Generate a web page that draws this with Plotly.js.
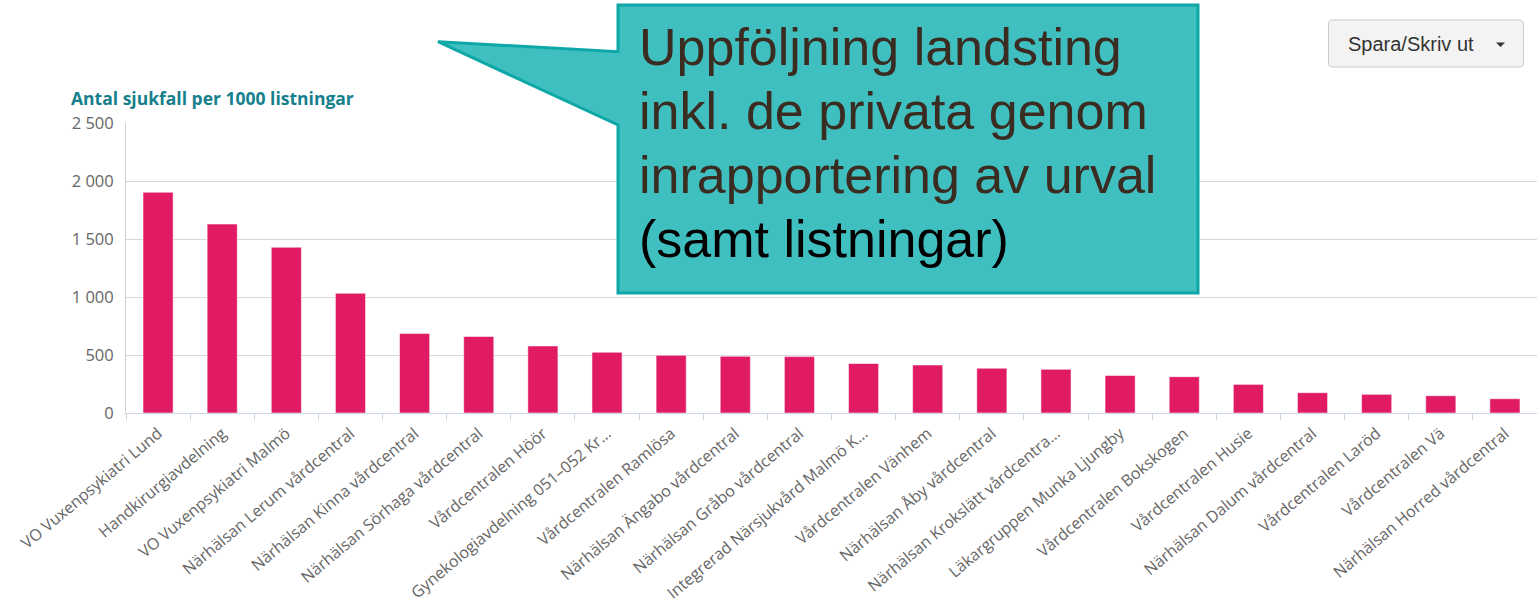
<!DOCTYPE html>
<html>
<head>
<meta charset="utf-8">
<script src="https://cdn.plot.ly/plotly-3.0.1.min.js"></script>
<style>
  html, body { margin: 0; padding: 0; background: #ffffff; }
  #chart { width: 1537px; height: 605px; }
</style>
</head>
<body>
<div id="chart"></div>
<script>
// ---- Data ----
const categories = [
  "VO Vuxenpsykiatri Lund",
  "Handkirurgiavdelning",
  "VO Vuxenpsykiatri Malmö",
  "Närhälsan Lerum vårdcentral",
  "Närhälsan Kinna vårdcentral",
  "Närhälsan Sörhaga vårdcentral",
  "Vårdcentralen Höör",
  "Gynekologiavdelning 051–052 Kr…",
  "Vårdcentralen Ramlösa",
  "Närhälsan Ängabo vårdcentral",
  "Närhälsan Gråbo vårdcentral",
  "Integrerad Närsjukvård Malmö K…",
  "Vårdcentralen Vänhem",
  "Närhälsan Åby vårdcentral",
  "Närhälsan Krokslätt vårdcentra…",
  "Läkargruppen Munka Ljungby",
  "Vårdcentralen Bokskogen",
  "Vårdcentralen Husie",
  "Närhälsan Dalum vårdcentral",
  "Vårdcentralen Laröd",
  "Vårdcentralen Vä",
  "Närhälsan Horred vårdcentral"
];
const sjukfallPer1000 = [1903, 1629, 1429, 1032, 686, 660, 578, 524, 498, 489, 486, 427, 414, 386, 377, 324, 313, 247, 175, 161, 149, 123];
const yTickValues = [0, 500, 1000, 1500, 2000, 2500];
const yAxisTitle = "Antal sjukfall per 1000 listningar";
const calloutLines = ["Uppföljning landsting", "inkl. de privata genom", "inrapportering av urval", "(samt listningar)"];
const calloutColors = ["#3b2c21", "#3b2c21", "#3b2c21", "#000000"];
const buttonLabel = "Spara/Skriv ut";

// ---- Layout helpers (pixel -> paper) ----
const W = 1537, H = 605;
const M = { l: 126, r: 0, t: 123, b: 192 };
const PW = W - M.l - M.r, PH = H - M.t - M.b;
const px = x => (x - M.l) / PW;
const py = y => (H - M.b - y) / PH;
const P = (x, y) => px(x).toFixed(5) + "," + py(y).toFixed(5);

const calloutPath = "M" + P(618, 5) + " L" + P(1198, 5) + " L" + P(1198, 293) + " L" + P(618, 293) +
  " L" + P(618, 125) + " L" + P(438, 41.7) + " L" + P(618, 51.7) + " Z";

const r = 4;
const bx0 = 1328.5, bx1 = 1523.5, by0 = 20, by1 = 67;
const buttonPath = "M" + P(bx0 + r, by0) + " L" + P(bx1 - r, by0) + " Q" + P(bx1, by0) + " " + P(bx1, by0 + r) +
  " L" + P(bx1, by1 - r) + " Q" + P(bx1, by1) + " " + P(bx1 - r, by1) +
  " L" + P(bx0 + r, by1) + " Q" + P(bx0, by1) + " " + P(bx0, by1 - r) +
  " L" + P(bx0, by0 + r) + " Q" + P(bx0, by0) + " " + P(bx0 + r, by0) + " Z";
const caretPath = "M" + P(1496, 42.5) + " L" + P(1505, 42.5) + " L" + P(1500.5, 47) + " Z";

const trace = {
  type: "bar",
  x: categories,
  y: sjukfallPer1000,
  marker: { color: "#e11a64", line: { color: "rgba(255,255,255,0.55)", width: 1 } },
  hoverinfo: "skip"
};

const calloutFont = 52;
const calloutBaselines = [68, 132, 196, 260];
const calloutAnnotations = calloutLines.map((t, i) => ({
  xref: "paper", yref: "paper", x: px(637), y: py(calloutBaselines[i] - calloutFont),
  xanchor: "left", yanchor: "top", align: "left", text: t, showarrow: false,
  font: { family: "Liberation Sans, Arial, sans-serif", size: calloutFont, color: calloutColors[i] }
}));

const layout = {
  width: W, height: H,
  margin: M,
  paper_bgcolor: "#ffffff",
  plot_bgcolor: "#ffffff",
  showlegend: false,
  separators: ", ",
  bargap: 0.53,
  font: { family: "Open Sans, DejaVu Sans, sans-serif", color: "#666666", size: 14 },
  xaxis: {
    type: "category",
    tickangle: -40,
    tickson: "boundaries",
    ticks: "outside",
    ticklen: 6,
    tickwidth: 1,
    tickcolor: "#ccd6eb",
    showline: true,
    linecolor: "#ccd6eb",
    linewidth: 1,
    showgrid: false,
    ticklabelstandoff: 4,
    tickfont: { family: "Open Sans, DejaVu Sans, sans-serif", size: 16, color: "#666666" },
    fixedrange: true
  },
  yaxis: {
    range: [0, 2500],
    tickvals: yTickValues,
    separatethousands: true,
    tickformat: ",d",
    showgrid: true,
    gridcolor: "#d8d8d8",
    gridwidth: 1,
    zeroline: false,
    showline: true,
    linecolor: "#d0d0d0",
    ticks: "",
    ticklabelstandoff: 8,
    tickfont: { family: "Open Sans, DejaVu Sans, sans-serif", size: 16.5, color: "#666666" },
    fixedrange: true
  },
  shapes: [
    { type: "path", xref: "paper", yref: "paper", path: calloutPath, fillcolor: "#40bfc1",
      line: { color: "#0ea7a7", width: 3 }, layer: "above" },
    { type: "path", xref: "paper", yref: "paper", path: buttonPath, fillcolor: "#f3f3f3",
      line: { color: "#c9c9c9", width: 1 }, layer: "above" },
    { type: "path", xref: "paper", yref: "paper", path: caretPath, fillcolor: "#333333",
      line: { width: 0 }, layer: "above" }
  ],
  annotations: [
    { xref: "paper", yref: "paper", x: px(69), y: py(98), xanchor: "left", yanchor: "middle",
      text: "<b>" + yAxisTitle + "</b>", showarrow: false,
      font: { family: "Open Sans, DejaVu Sans, sans-serif", size: 17.5, color: "#167f8d" } },
    { xref: "paper", yref: "paper", x: px(1346), y: py(44), xanchor: "left", yanchor: "middle",
      text: buttonLabel, showarrow: false,
      font: { family: "Liberation Sans, Arial, sans-serif", size: 20, color: "#333333" } }
  ].concat(calloutAnnotations)
};

Plotly.newPlot("chart", [trace], layout, { staticPlot: true, displayModeBar: false });
</script>
</body>
</html>
